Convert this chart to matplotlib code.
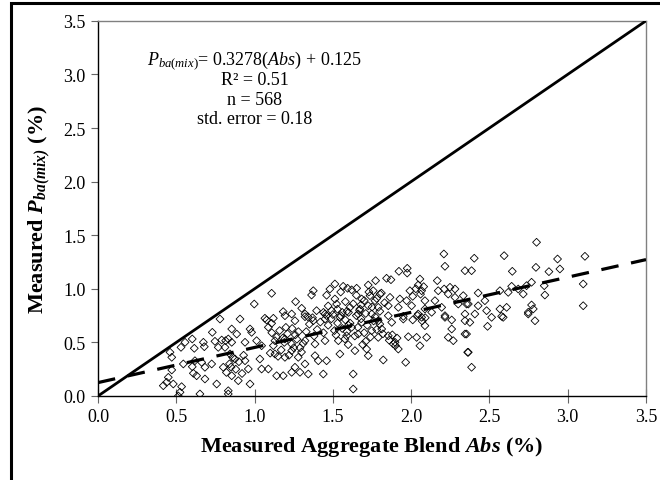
import matplotlib
matplotlib.use("Agg")
import matplotlib.pyplot as plt
from matplotlib.patches import Rectangle
import numpy as np

plt.rcParams['font.family'] = ['Liberation Serif', 'DejaVu Serif']
plt.rcParams['mathtext.fontset'] = 'custom'
plt.rcParams['mathtext.rm'] = 'Liberation Serif'
plt.rcParams['mathtext.it'] = 'Liberation Serif:italic'
plt.rcParams['mathtext.bf'] = 'Liberation Serif:bold'
plt.rcParams['mathtext.bfit'] = 'Liberation Serif:bold:italic'

# measured points (Abs %, Pba(mix) %) - individually read points
abs_x = [0.779,0.730,0.602,0.556,0.530,0.615,0.673,0.679,0.747,0.790,0.815,0.768,0.811,0.460,0.471,0.545,0.619,0.602,0.662,0.683,0.726,0.800,0.471,0.609,0.630,0.683,0.758,0.449,0.439,0.481,0.534,0.417,0.524,0.513,0.651,0.832,
 0.907,1.077,1.109,1.194,1.322,1.258,1.375,1.450,1.545,0.854,0.886,0.971,0.981,1.088,0.832,0.854,0.939,1.013,1.045,1.130,1.194,1.237,1.322,1.386,1.450,1.535,1.577,0.843,0.875,0.939,0.960,1.034,1.045,1.088,1.130,1.194,1.237,1.279,1.258,1.322,1.386,1.407,1.460,1.545,1.141,1.183,1.237,1.290,1.343,1.439,0.854,0.896,0.971,0.832,
 1.630,1.630,1.822,1.965,1.716,1.726,1.641,1.598,1.918,1.886,2.056,1.982,2.035,2.099,2.237,2.269,2.259,2.344,2.344,2.365,2.088,2.216,2.259,2.067,1.790,1.854,1.897,1.620,1.684,1.748,1.812,1.876,1.950,1.790,1.588,1.662,
 2.407,2.514,2.588,2.748,2.791,2.488,2.375,2.354,2.361,2.386,
 2.801,2.403,2.594,3.110,2.935,2.344,2.386,2.646,2.797,2.880,2.950,3.099,2.428,2.471,2.567,2.620,2.642,2.684,2.716,2.737,2.769,2.850,2.854,3.099,2.365,2.428,2.482,2.567,2.610,2.578,2.748,2.780,2.769,
 2.209,2.216,1.922,1.975,1.975,1.843,1.871,1.773,2.056,2.167,1.594,1.652,1.726,1.758,1.801,1.992,2.045,2.067,2.173,2.211,2.248,2.280,2.237,1.684,1.737,1.769,1.865,1.928,1.971,2.088,2.152,2.280,2.333,1.609,1.673,1.726,1.790,1.854,1.918,2.003,2.088,2.195,2.301,2.354,1.662,1.748,1.854,1.950,2.045,2.131,2.216,2.344,
 1.109,0.998,1.375,1.364,1.262,1.301,1.513,1.481,1.566,1.513,1.524,1.183,1.237,1.322,1.396,1.450,1.492,1.120,1.066]
pba_y = [0.718,0.594,0.532,0.501,0.454,0.445,0.501,0.460,0.510,0.522,0.516,0.454,0.454,0.408,0.361,0.299,0.329,0.273,0.314,0.268,0.299,0.268,0.243,0.212,0.189,0.159,0.112,0.174,0.128,0.112,0.087,0.096,0.035,0.0,0.019,0.019,
 0.718,0.709,0.678,0.749,0.740,0.702,0.702,0.718,0.734,0.625,0.578,0.625,0.594,0.641,0.532,0.501,0.501,0.516,0.469,0.516,0.532,0.485,0.516,0.485,0.516,0.516,0.532,0.392,0.345,0.329,0.252,0.345,0.252,0.252,0.392,0.361,0.423,0.361,0.268,0.299,0.376,0.329,0.329,0.392,0.189,0.189,0.221,0.221,0.205,0.205,0.189,0.143,0.112,0.049,
 0.205,0.065,0.336,0.314,0.438,0.376,0.423,0.479,0.438,0.485,0.469,0.553,0.547,0.547,0.547,0.516,0.625,0.578,0.702,0.408,0.656,0.734,0.709,0.734,0.547,0.562,0.501,0.641,0.687,0.609,0.625,0.687,0.718,0.702,0.562,0.578,
 0.765,0.734,0.734,0.765,0.702,0.650,0.687,0.578,0.408,0.268,
 1.434,1.285,1.309,1.303,1.278,1.169,1.169,1.163,1.200,1.160,1.185,1.045,0.961,0.889,0.982,0.967,1.023,0.998,0.951,1.029,1.061,1.029,0.942,0.842,0.858,0.842,0.796,0.812,0.827,0.743,0.781,0.812,0.849,
 1.325,1.210,1.163,1.191,1.147,1.098,1.085,1.076,1.091,1.076,1.005,1.005,1.035,0.982,0.951,0.982,1.035,0.982,0.982,0.998,1.014,0.998,0.951,0.905,0.936,0.889,0.920,0.905,0.889,0.889,0.889,0.920,0.936,0.827,0.812,0.842,0.827,0.842,0.827,0.842,0.812,0.827,0.858,0.858,0.765,0.765,0.749,0.743,0.765,0.781,0.749,0.765,
 0.958,0.858,0.982,0.942,0.880,0.818,1.045,0.998,1.023,0.905,0.858,0.787,0.765,0.765,0.796,0.765,0.796,0.725,0.725]

# estimated points inside the densest, overlapping clusters
dense_x = [1.10,1.12,1.14,1.16,1.17,1.19,1.21,1.22,1.24,1.25,1.27,1.28,1.30,1.31,1.15,1.20,1.26,1.11,1.29,1.18,
 1.33,1.35,1.37,1.40,1.42,1.44,1.47,1.49,1.51,1.53,1.56,1.58,1.60,1.38,1.46,1.55,1.34,1.52,
 0.82,0.84,0.86,0.88,0.90,0.92,0.93,0.85,
 1.59,1.61,1.64,1.66,1.68,1.70,1.72,1.74,1.76,1.78,1.80,1.82,1.65,1.71,1.77,1.69,
 1.86,1.88,1.90,1.91,2.01,2.04,2.07,2.09,
 1.60,1.63,1.65,1.67,1.70,1.73,1.75,1.78,1.80,1.83,1.62,1.71,1.81,1.68,
 2.01,2.03,2.06,2.08,
 1.44,1.47,1.50,1.53,1.56,1.58,1.46,1.55,1.59]
dense_y = [0.40,0.47,0.55,0.61,0.43,0.50,0.58,0.38,0.63,0.45,0.53,0.60,0.41,0.49,0.37,0.64,0.57,0.59,0.45,0.54,
 0.60,0.67,0.73,0.62,0.69,0.59,0.66,0.72,0.61,0.68,0.63,0.71,0.66,0.56,0.75,0.75,0.74,0.57,
 0.22,0.30,0.36,0.25,0.32,0.21,0.38,0.27,
 0.60,0.68,0.56,0.64,0.72,0.59,0.66,0.55,0.70,0.62,0.67,0.58,0.75,0.51,0.74,0.48,
 0.52,0.57,0.47,0.54,0.71,0.75,0.70,0.73,
 0.78,0.86,0.94,0.80,0.89,0.97,0.83,0.91,0.79,0.87,0.99,0.77,0.96,0.85,
 0.93,1.00,0.95,1.02,
 0.78,0.84,0.76,0.81,0.78,0.88,0.94,0.97,0.79]

slope = 0.3278
intercept = 0.125
x_ticks = [0.0, 0.5, 1.0, 1.5, 2.0, 2.5, 3.0, 3.5]
y_ticks = [0.0, 0.5, 1.0, 1.5, 2.0, 2.5, 3.0, 3.5]

fig = plt.figure(figsize=(6.6, 4.81), dpi=100)
ax = fig.add_axes([98/660, 84/481, 548/660, 375.2/481])

ax.scatter(abs_x + dense_x, pba_y + dense_y, marker='D', s=16, facecolors='none',
           edgecolors='black', linewidths=0.6, zorder=3)
ax.plot([0, 3.5], [0, 3.5], color='black', lw=2.0, zorder=4)
xr = np.array([0, 3.5])
ax.plot(xr, slope*xr + intercept, color='black', lw=2.3, dashes=(5.5, 4.0), zorder=5)

ax.set_xlim(0, 3.5)
ax.set_ylim(0, 3.5)
ax.set_xticks(x_ticks)
ax.set_yticks(y_ticks)
ax.set_xticklabels([f"{v:.1f}" for v in x_ticks])
ax.set_yticklabels([f"{v:.1f}" for v in y_ticks])
ax.tick_params(axis='x', direction='inout', length=10, width=0.8, color='#666666', labelsize=13, pad=4)
ax.tick_params(axis='y', direction='out', length=5, width=0.8, color='#666666', labelsize=13, pad=4)
for s in ['left', 'bottom']:
    ax.spines[s].set_color('black')
    ax.spines[s].set_linewidth(1.0)
for s in ['top', 'right']:
    ax.spines[s].set_color('#808080')
    ax.spines[s].set_linewidth(1.0)

ax.set_xlabel(r"Measured Aggregate Blend $\mathbfit{Abs}$ (%)", fontsize=16, fontweight='bold', labelpad=6)
ax.set_ylabel(r"Measured $\mathbfit{P}_{\mathbfit{ba(mix)}}$ (%)", fontsize=16, fontweight='bold', labelpad=8)

tx = 1.0
ax.text(tx, 3.14, r"$\mathit{P}_{\mathit{ba(mix)}}$= 0.3278($\mathit{Abs}$) + 0.125", ha='center', va='center', fontsize=13)
ax.text(tx, 2.95, "R² = 0.51", ha='center', va='center', fontsize=13)
ax.text(tx, 2.77, "n = 568", ha='center', va='center', fontsize=13)
ax.text(tx, 2.585, "std. error = 0.18", ha='center', va='center', fontsize=13)

fig.patches.append(Rectangle((11/660, -0.2), 1.5, 1.2 - 4/481, transform=fig.transFigure,
                             fill=False, edgecolor='black', linewidth=2.2))

fig.savefig("out.png", dpi=100)
